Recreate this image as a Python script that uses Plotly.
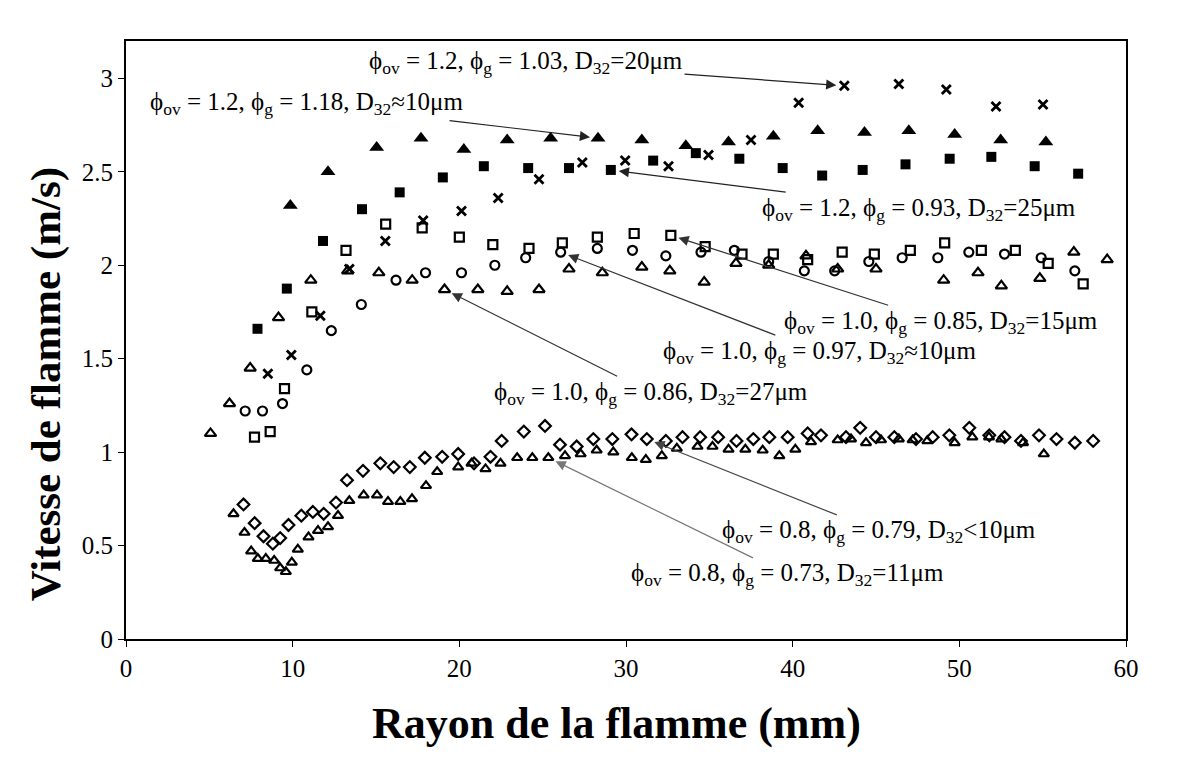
import plotly.graph_objects as go

# ---- data ----
# phi_ov=1.2, phi_g=1.18, D32~10um  (filled triangles)
x_tri_f = [9.86, 12.12, 15.04, 17.70, 20.27, 22.87, 25.48, 28.32, 30.95, 33.59, 36.15, 38.84, 41.5, 44.31, 46.97, 49.72, 52.48, 55.19]
y_tri_f = [2.32, 2.50, 2.63, 2.68, 2.62, 2.67, 2.68, 2.68, 2.67, 2.64, 2.66, 2.69, 2.72, 2.71, 2.72, 2.70, 2.67, 2.66]

# phi_ov=1.2, phi_g=0.93, D32=25um  (filled squares)
x_sq_f = [7.89, 9.65, 11.82, 14.16, 16.42, 19.01, 21.47, 24.13, 26.58, 29.09, 31.63, 34.19, 36.8, 39.4, 41.77, 44.2, 46.77, 49.42, 51.92, 54.52, 57.13]
y_sq_f = [1.66, 1.875, 2.13, 2.30, 2.39, 2.47, 2.53, 2.52, 2.52, 2.51, 2.56, 2.60, 2.57, 2.52, 2.48, 2.51, 2.54, 2.57, 2.58, 2.53, 2.49]

# phi_ov=1.2, phi_g=1.03, D32=20um  (crosses)
x_cross = [8.51, 9.92, 11.66, 13.4, 15.56, 17.83, 20.13, 22.33, 24.78, 27.38, 29.95, 32.55, 34.95, 37.5, 40.36, 43.1, 46.37, 49.22, 52.2, 55.02]
y_cross = [1.42, 1.52, 1.73, 1.98, 2.13, 2.24, 2.29, 2.36, 2.46, 2.55, 2.56, 2.53, 2.59, 2.67, 2.87, 2.96, 2.97, 2.94, 2.85, 2.86]

# phi_ov=1.0, phi_g=0.85, D32=15um  (open squares)
x_sq_o = [7.71, 8.65, 9.51, 11.15, 13.2, 15.58, 17.77, 20.0, 22.01, 24.18, 26.18, 28.28, 30.49, 32.69, 34.75, 36.96, 38.84, 40.9, 42.97, 44.9, 47.06, 49.12, 51.32, 53.36, 55.33, 57.43]
y_sq_o = [1.08, 1.11, 1.34, 1.75, 2.08, 2.22, 2.20, 2.15, 2.11, 2.09, 2.12, 2.15, 2.17, 2.16, 2.10, 2.06, 2.06, 2.03, 2.07, 2.06, 2.08, 2.12, 2.08, 2.08, 2.01, 1.90]

# phi_ov=1.0, phi_g=0.97, D32~10um  (open circles)
x_circ = [7.15, 8.19, 9.39, 10.85, 12.32, 14.12, 16.2, 17.97, 20.13, 22.13, 23.98, 26.08, 28.28, 30.39, 32.39, 34.5, 36.5, 38.56, 40.7, 42.52, 44.57, 46.57, 48.71, 50.57, 52.71, 54.91, 56.93]
y_circ = [1.22, 1.22, 1.26, 1.44, 1.65, 1.79, 1.92, 1.96, 1.96, 2.00, 2.04, 2.07, 2.09, 2.08, 2.05, 2.07, 2.08, 2.02, 1.97, 1.97, 2.02, 2.04, 2.04, 2.07, 2.06, 2.04, 1.97]

# phi_ov=1.0, phi_g=0.86, D32=27um  (open triangles)
x_tri_o = [5.07, 6.21, 7.45, 9.15, 11.09, 13.3, 15.17, 17.17, 19.11, 21.11, 22.87, 24.78, 26.58, 28.58, 30.95, 32.63, 34.69, 36.6, 38.56, 40.8, 42.7, 45.0, 49.06, 51.12, 52.52, 54.83, 56.87, 58.87]
y_tri_o = [1.10, 1.26, 1.45, 1.72, 1.92, 1.97, 1.96, 1.92, 1.87, 1.87, 1.86, 1.87, 1.98, 1.96, 1.99, 1.97, 1.91, 2.01, 2.00, 2.05, 1.98, 1.98, 1.92, 1.96, 1.89, 1.93, 2.07, 2.03]

# phi_ov=0.8, phi_g=0.79, D32<10um  (open diamonds)
x_diam = [7.05, 7.72, 8.25, 8.81, 9.25, 9.75, 10.52, 11.21, 11.86, 12.6, 13.26, 14.22, 15.26, 16.06, 17.03, 17.93, 18.97, 19.93, 20.88, 21.87, 22.54,
          23.87, 25.14, 26.04, 27.04, 28.04, 29.18, 30.33, 31.25, 32.39, 33.39, 34.45, 35.53, 36.63, 37.64, 38.6, 39.7, 40.9, 41.7,
          43.2, 44.05, 45.0, 46.1, 47.4, 48.4, 49.4, 50.6, 51.8, 52.71, 53.7, 54.78, 55.83, 56.93, 58.03]
y_diam = [0.72, 0.62, 0.55, 0.51, 0.54, 0.61, 0.66, 0.68, 0.67, 0.73, 0.85, 0.90, 0.94, 0.92, 0.92, 0.97, 0.975, 0.99, 0.94, 0.975, 1.06,
          1.11, 1.14, 1.04, 1.03, 1.07, 1.07, 1.095, 1.07, 1.06, 1.08, 1.08, 1.08, 1.06, 1.07, 1.08, 1.08, 1.10, 1.09,
          1.08, 1.13, 1.08, 1.08, 1.07, 1.08, 1.09, 1.13, 1.09, 1.08, 1.06, 1.09, 1.07, 1.05, 1.06]

# phi_ov=0.8, phi_g=0.73, D32=11um  (small open triangles)
x_tri_s = [6.45, 7.11, 7.51, 7.91, 8.39, 8.89, 9.25, 9.59, 9.95, 10.31, 10.95, 11.52, 12.12, 12.72, 13.4, 14.26, 15.06, 15.72, 16.46, 17.16, 18.0, 18.67, 19.93, 20.73, 21.57, 22.47,
           23.47, 24.38, 25.34, 26.34, 27.28, 28.24, 29.24, 30.35, 31.19, 32.15, 33.05, 34.29, 35.19, 36.15, 37.16, 38.2, 39.2, 40.16, 41.1,
           42.7, 43.5, 44.4, 45.3, 46.37, 47.2, 48.08, 49.72, 50.78, 51.78, 52.52, 53.82, 55.07]
y_tri_s = [0.67, 0.57, 0.47, 0.43, 0.43, 0.42, 0.38, 0.36, 0.41, 0.48, 0.545, 0.58, 0.60, 0.66, 0.74, 0.77, 0.77, 0.735, 0.735, 0.75, 0.82, 0.895, 0.92, 0.94, 0.91, 0.94,
           0.97, 0.97, 0.97, 0.98, 0.99, 1.01, 1.00, 0.97, 0.96, 0.98, 1.02, 1.03, 1.03, 1.015, 1.015, 1.01, 0.98, 1.015, 1.055,
           1.065, 1.07, 1.05, 1.065, 1.07, 1.065, 1.06, 1.05, 1.08, 1.08, 1.07, 1.05, 0.99]

x_ticks = [0, 10, 20, 30, 40, 50, 60]
y_ticks = [0, 0.5, 1, 1.5, 2, 2.5, 3]
y_tick_text = ["0", "0.5", "1", "1.5", "2", "2.5", "3"]

x_title = "Rayon de la flamme (mm)"
y_title = "Vitesse de flamme (m/s)"

labels = [
    "ϕ<sub>ov</sub> = 1.2, ϕ<sub>g</sub> = 1.03, D<sub>32</sub>=20μm",
    "ϕ<sub>ov</sub> = 1.2, ϕ<sub>g</sub> = 1.18, D<sub>32</sub>≈10μm",
    "ϕ<sub>ov</sub> = 1.2, ϕ<sub>g</sub> = 0.93, D<sub>32</sub>=25μm",
    "ϕ<sub>ov</sub> = 1.0, ϕ<sub>g</sub> = 0.85, D<sub>32</sub>=15μm",
    "ϕ<sub>ov</sub> = 1.0, ϕ<sub>g</sub> = 0.97, D<sub>32</sub>≈10μm",
    "ϕ<sub>ov</sub> = 1.0, ϕ<sub>g</sub> = 0.86, D<sub>32</sub>=27μm",
    "ϕ<sub>ov</sub> = 0.8, ϕ<sub>g</sub> = 0.79, D<sub>32</sub>&lt;10μm",
    "ϕ<sub>ov</sub> = 0.8, ϕ<sub>g</sub> = 0.73, D<sub>32</sub>=11μm",
]

SERIF = "Liberation Serif, Times New Roman, serif"

fig = go.Figure()

def add(xs, ys, symbol, size, lw=0):
    fig.add_trace(go.Scatter(
        x=xs, y=ys, mode="markers", showlegend=False,
        marker=dict(symbol=symbol, size=size, color="black",
                    line=dict(color="black", width=lw)),
    ))

add(x_tri_s, y_tri_s, "triangle-up-open", 9, 2.2)
add(x_diam, y_diam, "diamond-open", 9, 2.2)
add(x_tri_o, y_tri_o, "triangle-up-open", 10, 2.2)
add(x_circ, y_circ, "circle-open", 9, 2.2)
add(x_sq_o, y_sq_o, "square-open", 9, 2.2)
add(x_cross, y_cross, "x-thin-open", 9, 2.8)
add(x_sq_f, y_sq_f, "square", 10)
add(x_tri_f, y_tri_f, "triangle-up", 13)

# annotation: (label, target x, target y, text center x, text center y, colour)
ann_specs = [
    (labels[0], x_cross[15], y_cross[15], 24.0, 3.085, "#222"),
    (labels[1], x_tri_f[7], y_tri_f[7], 10.8, 2.865, "#222"),
    (labels[2], x_sq_f[9], y_sq_f[9], 47.6, 2.30, "#222"),
    (labels[3], x_sq_o[13], y_sq_o[13], 48.9, 1.695, "#333"),
    (labels[4], x_circ[11], y_circ[11], 41.6, 1.535, "#333"),
    (labels[5], x_tri_o[8], y_tri_o[8], 31.5, 1.315, "#333"),
    (labels[6], x_diam[28], y_diam[28], 45.2, 0.573, "#444"),
    (labels[7], x_tri_s[28], y_tri_s[28], 39.7, 0.343, "#777"),
]

for txt, tx, ty, cx, cy, col in ann_specs:
    fig.add_annotation(
        x=tx, y=ty, ax=cx, ay=cy, xref="x", yref="y", axref="x", ayref="y",
        text=txt, showarrow=True, arrowhead=2, arrowsize=1.7, arrowwidth=1.2,
        arrowcolor=col, standoff=8,
        font=dict(family=SERIF, size=25, color="black"),
    )

# axis titles (placed as in the reference)
fig.add_annotation(
    text="<b>" + y_title + "</b>", textangle=-90, showarrow=False,
    xref="paper", yref="paper", x=0, y=0.426, xanchor="center", yanchor="middle",
    xshift=-80, font=dict(family=SERIF, size=43, color="black"),
)
fig.add_annotation(
    text="<b>" + x_title + "</b>", showarrow=False,
    xref="paper", yref="paper", x=0.49, y=0, xanchor="center", yanchor="middle",
    yshift=-84, font=dict(family=SERIF, size=44, color="black"),
)

fig.update_xaxes(
    range=[0, 60], tickvals=x_ticks, ticks="outside", ticklen=6, tickwidth=1,
    tickcolor="black", showline=True, linecolor="black", linewidth=2, mirror=True,
    showgrid=False, zeroline=False,
    tickfont=dict(family=SERIF, size=25, color="black"),
)
fig.update_yaxes(
    range=[0, 3.2], tickvals=y_ticks, ticktext=y_tick_text, ticks="outside", ticklen=6,
    tickwidth=1, tickcolor="black", showline=True, linecolor="black", linewidth=2,
    mirror=True, showgrid=False, zeroline=False,
    tickfont=dict(family=SERIF, size=25, color="black"),
)

fig.update_layout(
    width=1191, height=757,
    margin=dict(l=118, r=73, t=33, b=126),
    paper_bgcolor="white", plot_bgcolor="white",
)

fig.write_html("out.html")
